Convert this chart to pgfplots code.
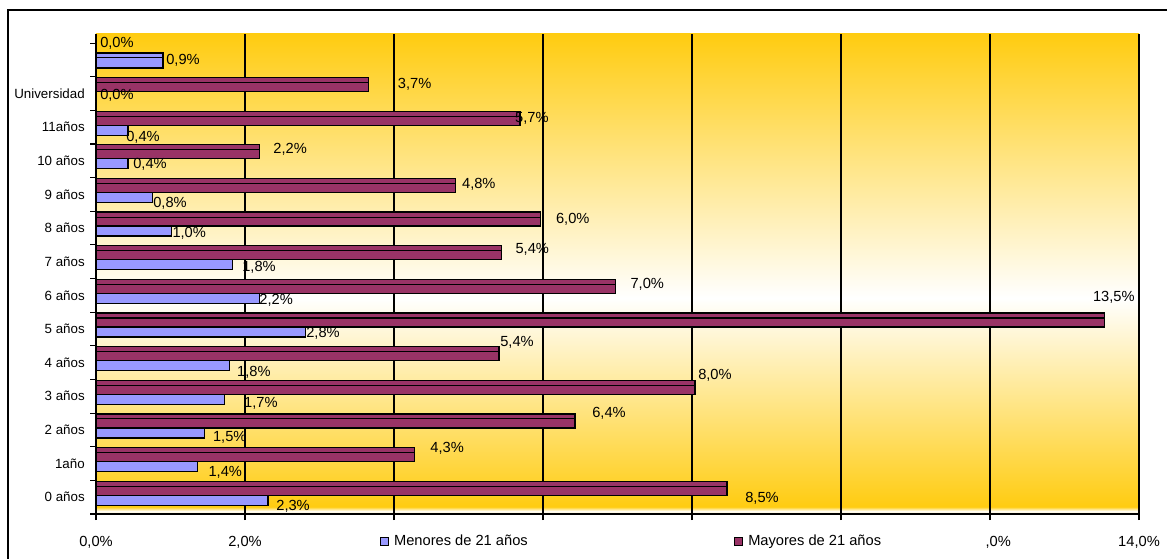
\documentclass[border=0pt]{standalone}
\usepackage{pgfplots}
\pgfplotsset{compat=1.18}
\usepackage{pgfplotstable}
\usepackage{fontspec}
\setmainfont{Liberation Sans}

\definecolor{menores}{RGB}{153,153,255}
\definecolor{mayores}{RGB}{153,51,102}
\definecolor{ylw}{RGB}{255,204,17}
\definecolor{ylwpale}{RGB}{255,236,170}

% fondo: amarillo arriba, blanco al centro, amarillo abajo
\pgfdeclareverticalshading{fondo}{100bp}{color(0bp)=(ylwpale); color(25bp)=(ylwpale); color(25.3bp)=(white); color(25.75bp)=(ylw); color(47.5bp)=(white); color(75bp)=(ylw); color(100bp)=(ylw)}

% y = categoria, x = porcentaje, dx/dy = desplazamiento de la etiqueta (px)
\pgfplotstableread{
y  x     dx   dy
0  2.31  8    -9
1  1.36  11   -8.5
2  1.46  8    -7
3  1.73  19   -7
4  1.79  7.5  -10
5  2.81  0.7  -4
6  2.19  0    -5
7  1.83  9.7  -6
8  1.01  1    -5
9  0.76  0.4  -9
10 0.43  5    -4
11 0.43  -2   -10
12 0.00  4    -1.5
13 0.90  3    0
}\menores

\pgfplotstableread{
y  x      dx   dy
0  8.47   18   -1
1  4.27   16   15.5
2  6.43   17   17
3  8.04   3    21
4  5.41   1    20.6
5  13.54  -12  32
6  6.97   15   11
7  5.44   14   12
8  5.97   15   9
9  4.83   6    10
10 2.19   14   11
11 5.69   -5   9
12 3.66   29   9.5
13 0.00   4    17
}\mayores

\pgfplotsset{
  etiquetas/.style={
    draw=none, mark=none, forget plot, point meta=x,
    nodes near coords={\pgfmathprintnumber[fixed,fixed zerofill,precision=1,use comma,assume math mode=true]{\pgfplotspointmeta}\%},
    visualization depends on={\thisrow{dx}\as\dx},
    visualization depends on={\thisrow{dy}\as\dy},
    every node near coord/.append style={anchor=west, inner sep=0pt,
      xshift=\dx*0.75pt, yshift=\dy*0.75pt, font=\fontsize{11}{13}\selectfont},
  },
}

\begin{document}
\begin{tikzpicture}
\begin{axis}[
  at={(72pt,33pt)}, anchor=south west,
  scale only axis, width=782.25pt, height=360pt,
  xmin=0, xmax=14, ymin=-0.5, ymax=13.77,
  axis lines=left, axis line style={-, line width=0.9pt, black},
  axis background/.style={shade, shading=fondo},
  clip=false,
  xtick={0,2,...,14},
  xticklabels={{0,0\%},{2,0\%},{},{},{},{},{\phantom{12},0\%},{14,0\%}},
  xmajorgrids, major grid style={black, line width=0.8pt},
  tick align=outside, major tick length=4.5pt,
  tick style={black, line width=0.8pt},
  xticklabel style={inner sep=0pt, yshift=-11.8pt, font=\fontsize{11}{13}\selectfont},
  ytick={-0.5,0.5,...,13.5}, yticklabel style={text opacity=0},
  extra y ticks={0,1,...,13},
  extra y tick labels={0 años,1año,2 años,3 años,4 años,5 años,6 años,7 años,8 años,9 años,10 años,11años,Universidad,{}},
  extra y tick style={major tick length=0pt, grid=none,
    yticklabel style={text opacity=1, inner sep=0pt, xshift=-8.25pt, font=\fontsize{10}{12}\selectfont}},
  legend columns=2,
  legend image code/.code={\draw[#1, draw=black, line width=0.6pt] (0pt,-3pt) rectangle (6pt,3pt);},
  legend style={at={(0.2723,-0.05625)}, anchor=west, draw=none, fill=none,
    inner sep=0pt, font=\fontsize{11}{13}\selectfont, nodes={inner sep=0pt},
    /tikz/every odd column/.append style={column sep=3.75pt},
    /tikz/every even column/.append style={column sep=155pt}},
]
\addplot[xbar, bar width=11.25pt, bar shift=-0.375pt, fill=menores, draw=black, line width=0.9pt]
  table[x=x, y=y] {\menores};
\addplot[xbar, bar width=0pt, bar shift=1.5pt, draw=black, line width=0.8pt, forget plot]
  table[x=x, y=y] {\menores};
\addplot[xbar, bar width=10.5pt, bar shift=6.75pt, fill=mayores, draw=black, line width=0.9pt]
  table[x=x, y=y] {\mayores};
\addplot[xbar, bar width=0pt, bar shift=8.25pt, draw=black, line width=0.8pt, forget plot]
  table[x=x, y=y] {\mayores};

\addplot[etiquetas] table[x=x, y=y] {\menores};
\addplot[etiquetas] table[x=x, y=y] {\mayores};

\legend{Menores de 21 años, Mayores de 21 años}
\end{axis}
\draw[line width=1.1pt] (6pt,411pt) rectangle (900pt,-20pt);
\pgfresetboundingbox
\useasboundingbox (0pt,0pt) rectangle (875.25pt,418.5pt);
\end{tikzpicture}
\end{document}
